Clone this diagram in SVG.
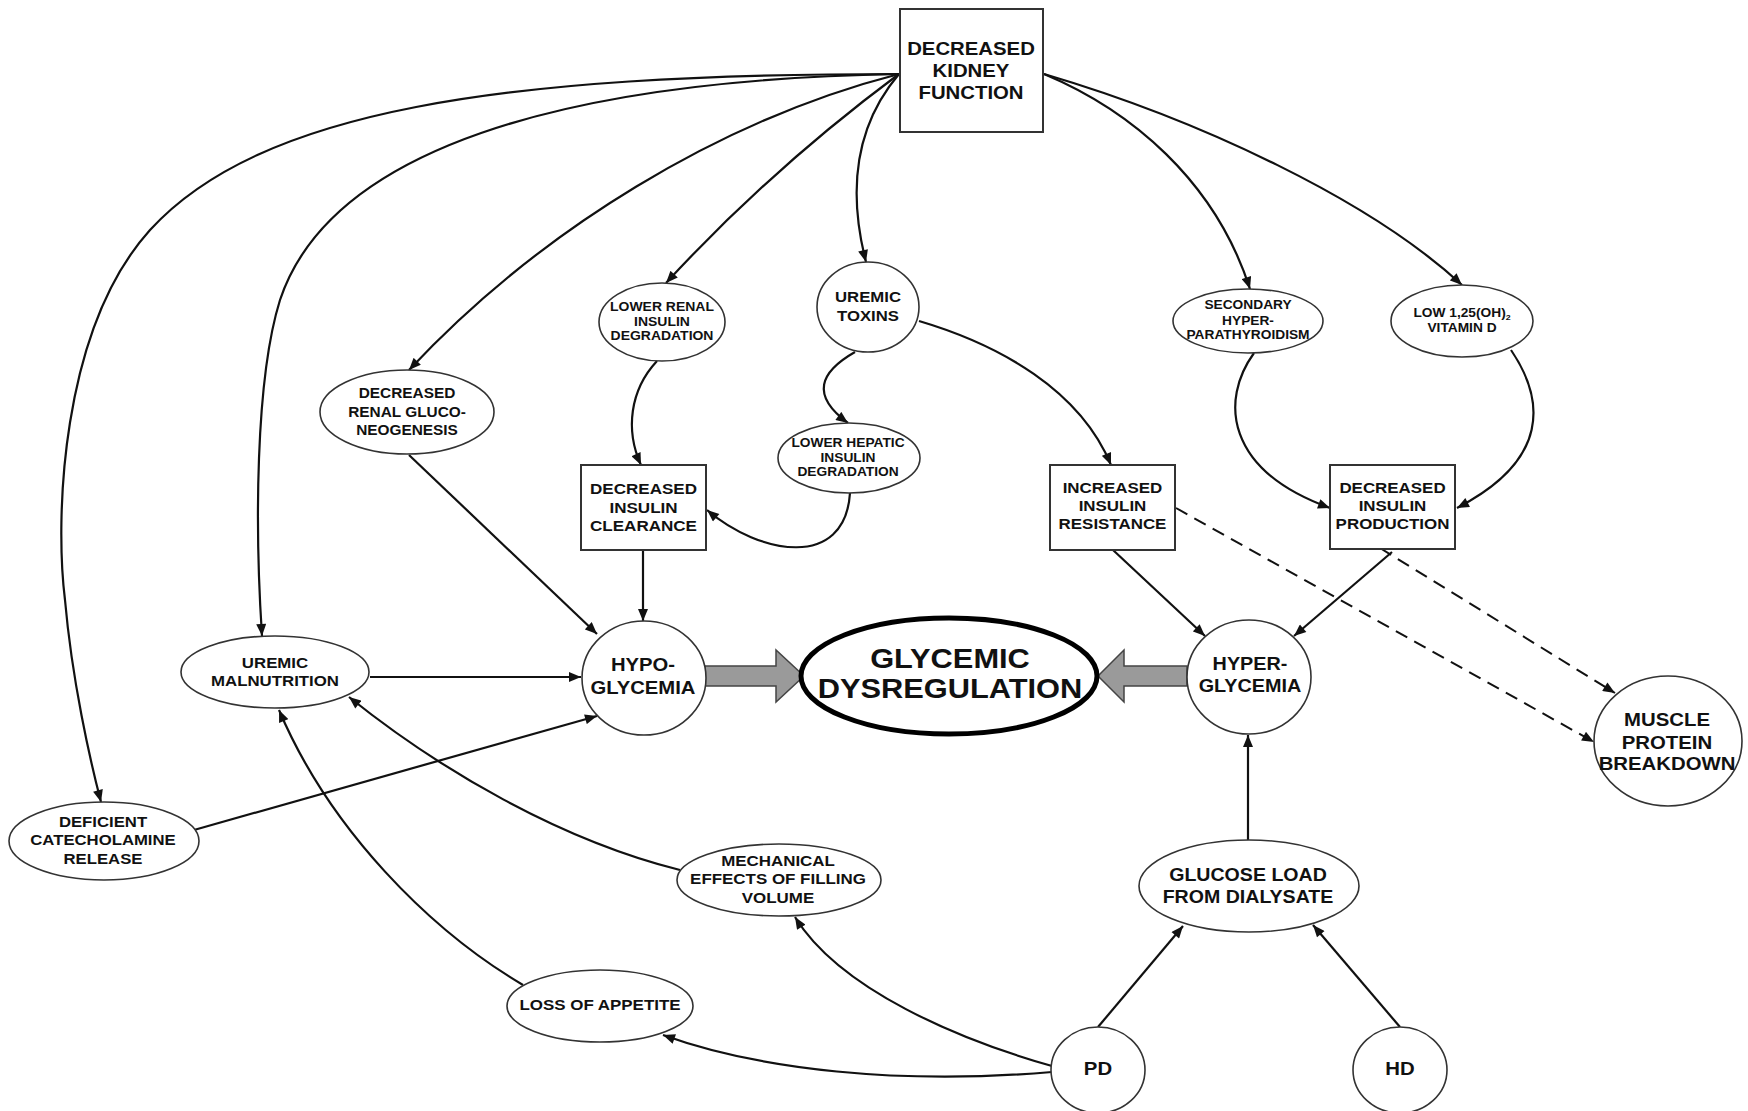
<svg xmlns="http://www.w3.org/2000/svg" width="1748" height="1111" viewBox="0 0 1748 1111">
<defs>
<marker id="arr" viewBox="0 0 12 10" refX="12" refY="5" markerWidth="13" markerHeight="10" markerUnits="userSpaceOnUse" orient="auto">
<path d="M0,0 L12,5 L0,10 z" fill="#111"/>
</marker>
<style>
.n{fill:#fff;stroke:#333;stroke-width:1.6}
.b{fill:#fff;stroke:#333;stroke-width:2}
.t{font-family:"Liberation Sans",Arial,sans-serif;font-weight:bold;text-anchor:middle;fill:#111}
.c{fill:none;stroke:#111;stroke-width:2.2;marker-end:url(#arr)}
.d{fill:none;stroke:#111;stroke-width:2;stroke-dasharray:13 8;marker-end:url(#arr)}
.blk{fill:#9a9a9a;stroke:#444;stroke-width:1.5}
</style>
</defs>
<rect width="1748" height="1111" fill="#fff"/>

<g id="connectors">
<path class="c" d="M899,74 C500,74 260,110 150,230 C60,330 55,520 65,600 C72,680 90,760 101,802"/>
<path class="c" d="M899,74 C560,80 330,150 280,300 C255,380 255,530 262,636"/>
<path class="c" d="M899,74 C720,120 540,230 409,370"/>
<path class="c" d="M899,74 Q770,170 666,283"/>
<path class="c" d="M899,74 C860,120 845,180 866,262"/>
<path class="c" d="M1044,74 C1130,110 1215,180 1250,289"/>
<path class="c" d="M1044,74 C1200,120 1370,200 1462,285"/>
<path class="c" d="M855,352 C820,372 810,395 848,423"/>
<path class="c" d="M657,361 C630,390 625,430 641,465"/>
<path class="c" d="M850,493 C845,570 760,555 707,510"/>
<path class="c" d="M919,321 C1000,345 1080,390 1111,465"/>
<path class="c" d="M1254,353 C1220,400 1225,470 1330,508"/>
<path class="c" d="M1511,350 C1545,400 1550,460 1457,508"/>
<path class="c" d="M409,455 L597,634"/>
<path class="c" d="M643,550 L643,621"/>
<path class="c" d="M370,677 L581,677"/>
<path class="c" d="M194,830 L597,716"/>
<path class="c" d="M1113,550 L1205,636"/>
<path class="c" d="M1392,552 L1294,636"/>
<path class="c" d="M1248,840 L1248,735"/>
<path class="d" d="M1176,508 L1594,742"/>
<path class="d" d="M1380,548 L1615,693"/>
<path class="c" d="M680,870 C560,840 440,770 349,697"/>
<path class="c" d="M523,985 C430,930 330,830 279,710"/>
<path class="c" d="M1052,1066 C960,1040 840,990 795,917"/>
<path class="c" d="M1052,1072 C900,1085 760,1070 663,1035"/>
<path class="c" d="M1098,1027 L1183,926"/>
<path class="c" d="M1400,1027 L1313,925"/>
<polygon class="blk" points="705,666 776,666 776,650 804,676 776,702 776,686 705,686"/>
<polygon class="blk" points="1187,666 1124,666 1124,650 1098,676 1124,702 1124,686 1187,686"/>
</g>

<g id="kidney">
<rect class="b" x="900" y="9" width="143" height="123"/>
<text class="t" font-size="18.5" transform="matrix(1.1 0 0 1 971 0)"><tspan x="0" y="54.7">DECREASED</tspan><tspan x="0" y="76.7">KIDNEY</tspan><tspan x="0" y="98.7">FUNCTION</tspan></text>
</g>

<g id="lowerRenal">
<ellipse class="n" cx="662" cy="322" rx="63" ry="39"/>
<text class="t" font-size="12.7" transform="matrix(1.1 0 0 1 662 0)"><tspan x="0" y="310.6">LOWER RENAL</tspan><tspan x="0" y="325.6">INSULIN</tspan><tspan x="0" y="339.6">DEGRADATION</tspan></text>
</g>

<g id="uremicToxins">
<ellipse class="n" cx="868" cy="307" rx="51" ry="45"/>
<text class="t" font-size="15.2" transform="matrix(1.1 0 0 1 868 0)"><tspan x="0" y="302.5">UREMIC</tspan><tspan x="0" y="321.5">TOXINS</tspan></text>
</g>

<g id="lowerHepatic">
<ellipse class="n" cx="849" cy="458" rx="71" ry="35"/>
<text class="t" font-size="12.5" transform="matrix(1.1 0 0 1 848 0)"><tspan x="0" y="447.5">LOWER HEPATIC</tspan><tspan x="0" y="462.5">INSULIN</tspan><tspan x="0" y="476.5">DEGRADATION</tspan></text>
</g>

<g id="secondary">
<ellipse class="n" cx="1248" cy="321" rx="75" ry="32"/>
<text class="t" font-size="12.5" transform="matrix(1.1 0 0 1 1248 0)"><tspan x="0" y="309.5">SECONDARY</tspan><tspan x="0" y="325.5">HYPER-</tspan><tspan x="0" y="339.5">PARATHYROIDISM</tspan></text>
</g>

<g id="lowVitD">
<ellipse class="n" cx="1462" cy="321" rx="71" ry="36"/>
<text class="t" font-size="12.5" transform="matrix(1.1 0 0 1 1462 0)"><tspan x="0" y="317.5">LOW 1,25(OH)<tspan font-size="8" dy="3">2</tspan></tspan><tspan x="0" y="332.5">VITAMIN D</tspan></text>
</g>

<g id="renalGluco">
<ellipse class="n" cx="407" cy="412" rx="87" ry="42"/>
<text class="t" font-size="14" transform="matrix(1.1 0 0 1 407 0)"><tspan x="0" y="398">DECREASED</tspan><tspan x="0" y="417">RENAL GLUCO-</tspan><tspan x="0" y="435">NEOGENESIS</tspan></text>
</g>

<g id="clearance">
<rect class="b" x="581" y="465" width="125" height="85"/>
<text class="t" font-size="15.5" transform="matrix(1.1 0 0 1 643.5 0)"><tspan x="0" y="493.6">DECREASED</tspan><tspan x="0" y="512.6">INSULIN</tspan><tspan x="0" y="530.6">CLEARANCE</tspan></text>
</g>

<g id="resistance">
<rect class="b" x="1050" y="465" width="125" height="85"/>
<text class="t" font-size="15.4" transform="matrix(1.1 0 0 1 1112.5 0)"><tspan x="0" y="493.5">INCREASED</tspan><tspan x="0" y="511.5">INSULIN</tspan><tspan x="0" y="529.5">RESISTANCE</tspan></text>
</g>

<g id="production">
<rect class="b" x="1330" y="465" width="125" height="84"/>
<text class="t" font-size="15.4" transform="matrix(1.1 0 0 1 1392.5 0)"><tspan x="0" y="493.5">DECREASED</tspan><tspan x="0" y="511.5">INSULIN</tspan><tspan x="0" y="529.5">PRODUCTION</tspan></text>
</g>

<g id="malnutrition">
<ellipse class="n" cx="275" cy="672" rx="94" ry="36"/>
<text class="t" font-size="15.3" transform="matrix(1.1 0 0 1 275 0)"><tspan x="0" y="668.5">UREMIC</tspan><tspan x="0" y="686.5">MALNUTRITION</tspan></text>
</g>

<g id="hypo">
<ellipse class="n" cx="644" cy="678" rx="62" ry="57"/>
<text class="t" font-size="18.4" transform="matrix(1.1 0 0 1 643 0)"><tspan x="0" y="670.6">HYPO-</tspan><tspan x="0" y="693.6">GLYCEMIA</tspan></text>
</g>

<g id="glycemic">
<ellipse cx="949" cy="676" rx="148" ry="58" fill="#fff" stroke="#000" stroke-width="5"/>
<text class="t" font-size="28" transform="matrix(1.1 0 0 1 950 0)"><tspan x="0" y="668">GLYCEMIC</tspan><tspan x="0" y="698">DYSREGULATION</tspan></text>
</g>

<g id="hyper">
<ellipse class="n" cx="1249" cy="677" rx="62" ry="57"/>
<text class="t" font-size="18" transform="matrix(1.1 0 0 1 1250 0)"><tspan x="0" y="670.5">HYPER-</tspan><tspan x="0" y="692.5">GLYCEMIA</tspan></text>
</g>

<g id="muscle">
<ellipse class="n" cx="1668" cy="741" rx="74" ry="65"/>
<text class="t" font-size="18.5" transform="matrix(1.1 0 0 1 1667 0)"><tspan x="0" y="725.6">MUSCLE</tspan><tspan x="0" y="748.6">PROTEIN</tspan><tspan x="0" y="769.6">BREAKDOWN</tspan></text>
</g>

<g id="catecholamine">
<ellipse class="n" cx="104" cy="841" rx="95" ry="39"/>
<text class="t" font-size="15.2" transform="matrix(1.1 0 0 1 103 0)"><tspan x="0" y="827.5">DEFICIENT</tspan><tspan x="0" y="845.5">CATECHOLAMINE</tspan><tspan x="0" y="864.5">RELEASE</tspan></text>
</g>

<g id="mechanical">
<ellipse class="n" cx="779" cy="880" rx="102" ry="36"/>
<text class="t" font-size="15.4" transform="matrix(1.1 0 0 1 778 0)"><tspan x="0" y="866.5">MECHANICAL</tspan><tspan x="0" y="884.5">EFFECTS OF FILLING</tspan><tspan x="0" y="903.5">VOLUME</tspan></text>
</g>

<g id="appetite">
<ellipse class="n" cx="600" cy="1006" rx="93" ry="36"/>
<text class="t" font-size="15.4" transform="matrix(1.1 0 0 1 600 0)"><tspan x="0" y="1010.5">LOSS OF APPETITE</tspan></text>
</g>

<g id="glucose">
<ellipse class="n" cx="1249" cy="886" rx="110" ry="46"/>
<text class="t" font-size="17.8" transform="matrix(1.1 0 0 1 1248 0)"><tspan x="0" y="881.4">GLUCOSE LOAD</tspan><tspan x="0" y="903.4">FROM DIALYSATE</tspan></text>
</g>

<g id="pd">
<ellipse class="n" cx="1098" cy="1070" rx="47" ry="43"/>
<text class="t" font-size="18.5" transform="matrix(1.1 0 0 1 1098 0)"><tspan x="0" y="1074.6">PD</tspan></text>
</g>

<g id="hd">
<ellipse class="n" cx="1400" cy="1070" rx="47" ry="43"/>
<text class="t" font-size="18.5" transform="matrix(1.1 0 0 1 1400 0)"><tspan x="0" y="1074.6">HD</tspan></text>
</g>
</svg>
